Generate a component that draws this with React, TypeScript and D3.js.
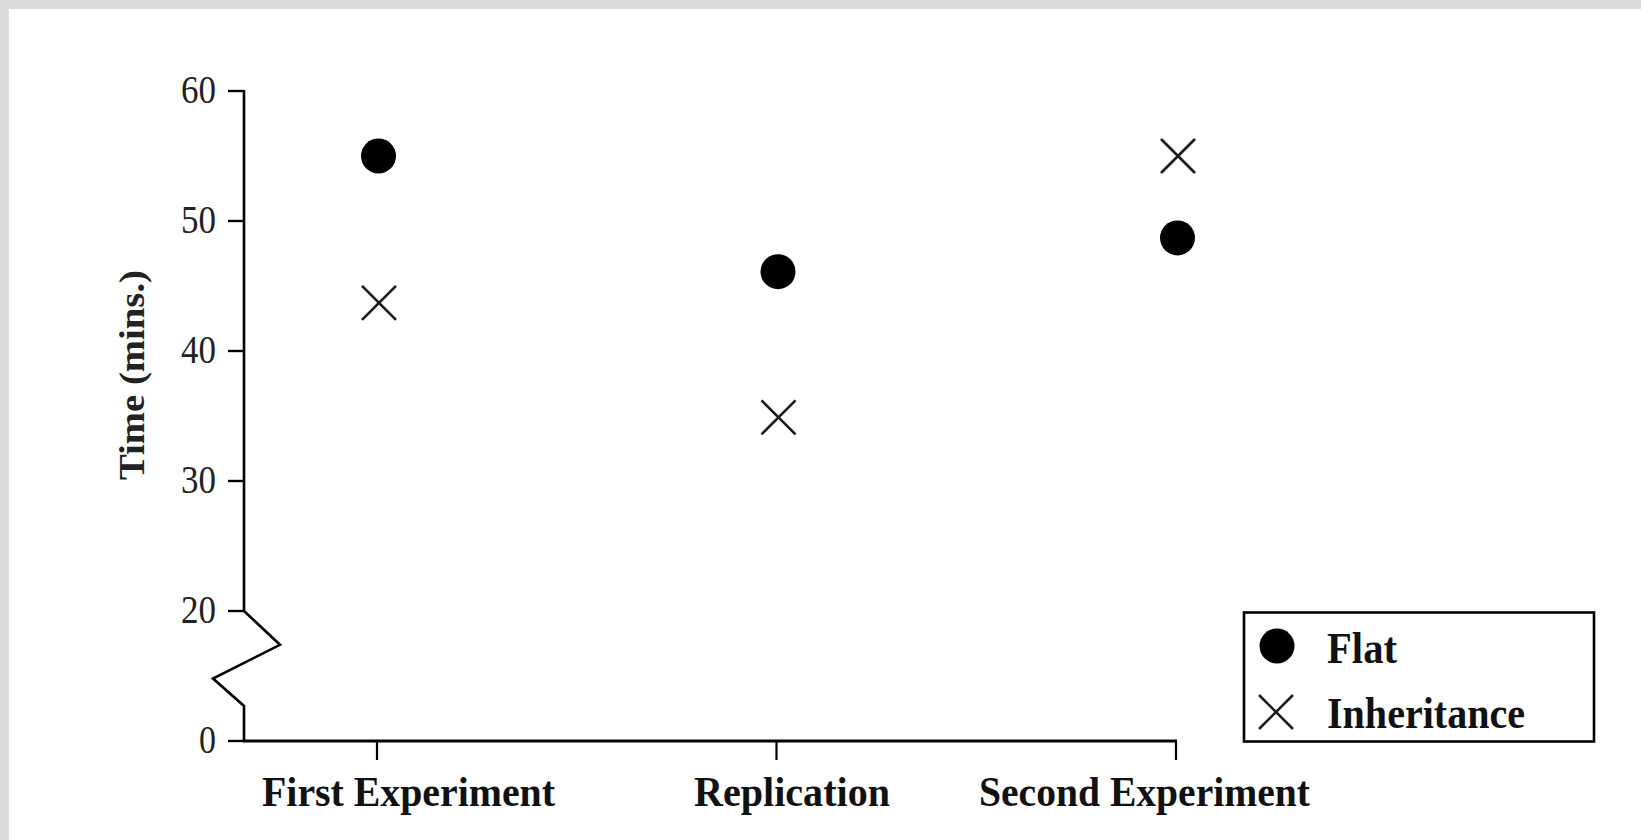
import React from "react";
import * as d3 from "d3";

const categories = ["First Experiment", "Replication", "Second Experiment"];
const flatValues = [55.0, 46.1, 48.7];
const inheritanceValues = [43.7, 34.9, 55.0];
const yTickValues = [60, 50, 40, 30, 20];
const yTickLabels = ["60", "50", "40", "30", "20"];
const seriesNames = ["Flat", "Inheritance"];
const yTitle = "Time (mins.)";

const W = 1641;
const H = 840;
const FONT = "'Liberation Serif', 'Times New Roman', serif";

// layout (styling, not data)
const axisX = 244;
const axisY = 741;
const labelDx = [31.5, 15.5, -31.5];
const labelWidths = [293, 196, 331];

export default function App() {
  const y = d3.scaleLinear().domain([10, 60]).range([axisY, 91]);
  const x = d3.scalePoint<string>().domain(categories).range([377, 1176]);

  // axis break zigzag expressed in data units
  const breakPts: [number, number][] = [
    [0, 20],
    [36, 17.4],
    [-31, 14.8],
    [0, 12.7],
    [0, 10],
  ];
  const zig = d3
    .line<[number, number]>()
    .x((d) => axisX + d[0])
    .y((d) => y(d[1]))(breakPts);

  const r = 17.5;
  const xs = 17;

  const cross = (cx: number, cy: number, s: number, key: string) => (
    <g key={key} stroke="#1a1a1a" strokeWidth={2.6} strokeLinecap="butt">
      <line x1={cx - s} y1={cy - s} x2={cx + s} y2={cy + s} />
      <line x1={cx - s} y1={cy + s} x2={cx + s} y2={cy - s} />
    </g>
  );

  return (
    <svg
      width={W}
      height={H}
      style={{ position: "absolute", left: 0, top: 0, display: "block" }}
    >
      <rect x={0} y={0} width={W} height={H} fill="#dcdcdc" />
      <rect x={9} y={9} width={W - 9} height={H - 9} fill="#ffffff" />

      {/* Y axis line (upper part) */}
      <line x1={axisX} y1={y(60) - 1} x2={axisX} y2={y(20)} stroke="#000" strokeWidth={2.6} />
      <path d={zig || ""} fill="none" stroke="#000" strokeWidth={2.6} strokeLinejoin="miter" />

      {/* Y ticks */}
      {yTickValues.map((v, i) => (
        <g key={"yt" + v}>
          <line x1={228} x2={axisX} y1={y(v)} y2={y(v)} stroke="#000" strokeWidth={2.4} />
          <text
            x={216}
            y={y(v) + 12}
            textAnchor="end"
            fontFamily={FONT}
            fontSize={40}
            textLength={35}
            lengthAdjust="spacingAndGlyphs"
            fill="#222"
          >
            {yTickLabels[i]}
          </text>
        </g>
      ))}
      {/* Zero tick at the break position */}
      <line x1={228} x2={axisX} y1={y(10)} y2={y(10)} stroke="#000" strokeWidth={2.4} />
      <text
        x={216}
        y={y(10) + 12}
        textAnchor="end"
        fontFamily={FONT}
        fontSize={40}
        textLength={17}
        lengthAdjust="spacingAndGlyphs"
        fill="#222"
      >
        0
      </text>

      {/* Y title */}
      <text
        transform={`translate(144,375) rotate(-90)`}
        textAnchor="middle"
        fontFamily={FONT}
        fontWeight="bold"
        fontSize={36}
        textLength={210}
        lengthAdjust="spacingAndGlyphs"
        fill="#222"
      >
        {yTitle}
      </text>

      {/* X axis */}
      <line
        x1={axisX - 1}
        x2={(x(categories[categories.length - 1]) as number) + 1}
        y1={axisY}
        y2={axisY}
        stroke="#000"
        strokeWidth={2.8}
      />
      {categories.map((c, i) => {
        const cx = x(c) as number;
        return (
          <g key={"xt" + c}>
            <line x1={cx} x2={cx} y1={axisY} y2={760} stroke="#000" strokeWidth={2.2} />
            <text
              x={cx + labelDx[i]}
              y={806}
              textAnchor="middle"
              fontFamily={FONT}
              fontWeight="bold"
              fontSize={42}
              textLength={labelWidths[i]}
              lengthAdjust="spacingAndGlyphs"
              fill="#111"
            >
              {c}
            </text>
          </g>
        );
      })}

      {/* Data: Flat */}
      {categories.map((c, i) => (
        <circle key={"f" + c} cx={(x(c) as number) + 1.5} cy={y(flatValues[i])} r={r} fill="#000" />
      ))}
      {/* Data: Inheritance */}
      {categories.map((c, i) => cross((x(c) as number) + 2, y(inheritanceValues[i]), xs, "i" + c))}

      {/* Legend */}
      <rect x={1244} y={612.5} width={350} height={129} fill="#fff" stroke="#000" strokeWidth={2.6} />
      <circle cx={1277} cy={646} r={r} fill="#000" />
      {cross(1276, 712, xs, "legx")}
      <text
        x={1327}
        y={663}
        fontFamily={FONT}
        fontWeight="bold"
        fontSize={45}
        textLength={70}
        lengthAdjust="spacingAndGlyphs"
        fill="#111"
      >
        {seriesNames[0]}
      </text>
      <text
        x={1327}
        y={728}
        fontFamily={FONT}
        fontWeight="bold"
        fontSize={45}
        textLength={198}
        lengthAdjust="spacingAndGlyphs"
        fill="#111"
      >
        {seriesNames[1]}
      </text>
    </svg>
  );
}
